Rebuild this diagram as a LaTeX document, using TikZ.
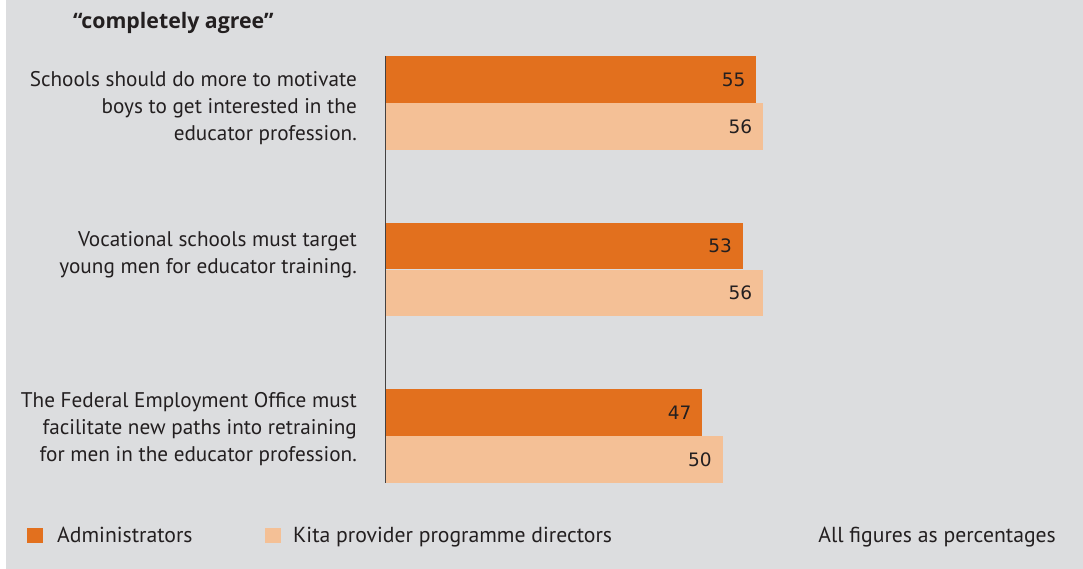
\documentclass[tikz,border=0pt]{standalone}
\usepackage{fontspec}
\setmainfont{PT Sans}
\newfontfamily\numfont{DejaVu Sans}
\newfontfamily\headfont{Open Sans}
\usetikzlibrary{positioning}

\definecolor{bggray}{HTML}{DCDDDF}
\definecolor{admorange}{HTML}{E2701E}
\definecolor{kitapeach}{HTML}{F4C096}
\definecolor{inkgray}{HTML}{231F20}

\tikzstyle{admbar} = [rectangle, fill=admorange, inner sep=0pt, minimum height=46.5pt, anchor=north west]
\tikzstyle{kitabar} = [rectangle, fill=kitapeach, inner sep=0pt, minimum height=46.5pt, anchor=north west]
\tikzstyle{valtext} = [inner sep=0pt, text=inkgray, font=\numfont\fontsize{18.5}{20}\selectfont]
\tikzstyle{labeltext} = [inner sep=0pt, text=inkgray, align=right, anchor=east, font=\fontsize{21.2}{27}\selectfont]
\tikzstyle{legtext} = [inner sep=0pt, text=inkgray, anchor=base west, font=\fontsize{21.7}{27}\selectfont]
\tikzstyle{legbox} = [rectangle, inner sep=0pt, minimum width=16pt, minimum height=15pt, anchor=south west]
\tikzstyle{axis} = [draw=inkgray!85, line width=1pt]
\tikzset{pct/.style={minimum width=#1*6.74pt}}

\begin{document}
\begin{tikzpicture}[x=1pt, y=-1pt]
        \useasboundingbox (0,0) rectangle (1083,569);
        \fill[bggray] (6,0) rectangle (1083,569);

        \node (title) [inner sep=0pt, anchor=base west, text=inkgray, font=\headfont\bfseries\fontsize{21.3}{27}\selectfont] at (73,29) {“completely agree”};

        % bars
        \node (adm1) [admbar, pct=55] at (385.5,56) {};
        \node (kita1) [kitabar, pct=56] at (adm1.south west) {};
        \node (adm2) [admbar, pct=53] at (385.5,222.5) {};
        \node (kita2) [kitabar, pct=56] at (adm2.south west) {};
        \node (adm3) [admbar, pct=47] at (385.5,389) {};
        \node (kita3) [kitabar, pct=50] at (adm3.south west) {};

        \node [valtext, left=11pt of adm1.east] {55};
        \node [valtext, left=11pt of kita1.east] {56};
        \node [valtext, left=11pt of adm2.east] {53};
        \node [valtext, left=11pt of kita2.east] {56};
        \node [valtext, left=11pt of adm3.east] {47};
        \node [valtext, left=11pt of kita3.east] {50};

        \draw [axis] (adm1.north west) -- (kita3.south west);

        % statements
        \node (q1) [labeltext] at (357,108) {Schools should do more to motivate\\boys to get interested in the\\educator profession.};
        \node (q2) [labeltext] at (357,254.5) {Vocational schools must target\\young men for educator training.};
        \node (q3) [labeltext] at (357,429) {The Federal Employment Office must\\facilitate new paths into retraining\\for men in the educator profession.};

        % legend
        \node (admkey) [legbox, fill=admorange] at (27,543) {};
        \node (admlab) [legtext] at (57,542) {Administrators};
        \node (kitakey) [legbox, fill=kitapeach] at (264.5,543) {};
        \node (kitalab) [legtext] at (293,542) {Kita provider programme directors};
        \node (note) [inner sep=0pt, text=inkgray, anchor=base east, font=\fontsize{21.7}{27}\selectfont] at (1056,542) {All figures as percentages};

\end{tikzpicture}
\end{document}
